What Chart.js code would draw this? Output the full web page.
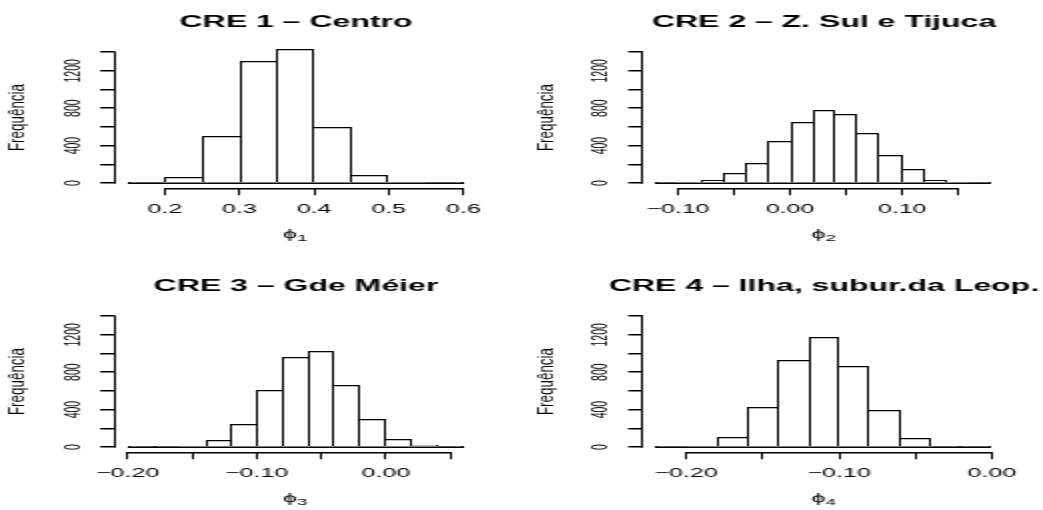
<!DOCTYPE html>
<html>
<head>
<meta charset="utf-8">
<title>CRE histogramas</title>
<script src="https://cdn.jsdelivr.net/npm/chart.js@4.4.0/dist/chart.umd.min.js"></script>
<style>
  html, body { margin: 0; padding: 0; background: #fff; }
  body { width: 1043px; height: 510px; overflow: hidden; position: relative; }
  /* each panel is drawn narrow and widened horizontally */
  .panel { position: absolute; transform: scaleX(2); transform-origin: 0 0; }
  .panel canvas { display: block; }
</style>
</head>
<body>
<div class="panel" style="left:0px;top:0px"><canvas id="cre1" width="296" height="246"></canvas></div>
<div class="panel" style="left:521px;top:0px"><canvas id="cre2" width="303" height="246"></canvas></div>
<div class="panel" style="left:0px;top:264px"><canvas id="cre3" width="296" height="246"></canvas></div>
<div class="panel" style="left:521px;top:264px"><canvas id="cre4" width="303" height="246"></canvas></div>

<script>
// ---- frequency axis (shared by all four histograms) ----
const yTicks = [0, 200, 400, 600, 800, 1000, 1200, 1400];
const yTickLabels = ['0', '', '400', '', '800', '', '1200', ''];
const yLimits = [0, 1400];

// ---- CRE 1 - Centro ----
const cre1Breaks = [0.15, 0.20, 0.25, 0.30, 0.35, 0.40, 0.45, 0.50, 0.55, 0.60];
const cre1Counts = [2, 60, 500, 1310, 1430, 600, 88, 8, 2];
const cre1XTicks = [0.2, 0.3, 0.4, 0.5, 0.6];
const cre1XLabels = ['0.2', '0.3', '0.4', '0.5', '0.6'];

// ---- CRE 2 - Z. Sul e Tijuca ----
const cre2Breaks = [-0.12, -0.10, -0.08, -0.06, -0.04, -0.02, 0.00, 0.02, 0.04, 0.06, 0.08, 0.10, 0.12, 0.14, 0.16, 0.18];
const cre2Counts = [2, 7, 36, 104, 219, 449, 654, 776, 740, 532, 295, 147, 29, 7, 1];
const cre2XTicks = [-0.10, -0.05, 0.00, 0.05, 0.10, 0.15];
const cre2XLabels = ['\u22120.10', '', '0.00', '', '0.10', ''];

// ---- CRE 3 - Gde Méier ----
const cre3Breaks = [-0.20, -0.18, -0.16, -0.14, -0.12, -0.10, -0.08, -0.06, -0.04, -0.02, 0.00, 0.02, 0.04, 0.06];
const cre3Counts = [2, 4, 11, 79, 247, 612, 960, 1028, 666, 301, 86, 21, 2];
const cre3XTicks = [-0.20, -0.15, -0.10, -0.05, 0.00, 0.05];
const cre3XLabels = ['\u22120.20', '', '\u22120.10', '', '0.00', ''];

// ---- CRE 4 - Ilha, subur. da Leopoldina ----
const cre4Breaks = [-0.22, -0.20, -0.18, -0.16, -0.14, -0.12, -0.10, -0.08, -0.06, -0.04, -0.02, 0.00];
const cre4Counts = [3, 11, 104, 433, 935, 1175, 863, 401, 93, 5, 2];
const cre4XTicks = [-0.20, -0.15, -0.10, -0.05, 0.00];
const cre4XLabels = ['\u22120.20', '', '\u22120.10', '', '0.00'];

const FONT = "'Liberation Sans', Arial, Helvetica, sans-serif";
Chart.defaults.color = '#000';
Chart.defaults.font.family = FONT;

// plot-region placement inside each canvas (canvas units, before widening)
const layoutLeft  = { plotLeft: 57.1,  plotRight: 238.4 };
const layoutRight = { plotLeft: 60.55, plotRight: 242.2 };
const CANVAS_H = 246;
const PLOT_BOTTOM = 188.24;
const H_LINE = 1.5;   // horizontal strokes
const V_LINE = 1;     // vertical strokes (widened 2x on screen)

const panels = [
  { id: 'cre1', title: 'CRE 1 \u2013 Centro', sym: '\u03d5', sub: '1',
    breaks: cre1Breaks, counts: cre1Counts, xTicks: cre1XTicks, xLabels: cre1XLabels, box: layoutLeft },
  { id: 'cre2', title: 'CRE 2 \u2013 Z. Sul e Tijuca', sym: '\u03d5', sub: '2',
    breaks: cre2Breaks, counts: cre2Counts, xTicks: cre2XTicks, xLabels: cre2XLabels, box: layoutRight },
  { id: 'cre3', title: 'CRE 3 \u2013 Gde M\u00e9ier', sym: '\u03d5', sub: '3',
    breaks: cre3Breaks, counts: cre3Counts, xTicks: cre3XTicks, xLabels: cre3XLabels, box: layoutLeft },
  { id: 'cre4', title: 'CRE 4 \u2013 Ilha, subur.da Leop.', sym: '\u03d5', sub: '4',
    breaks: cre4Breaks, counts: cre4Counts, xTicks: cre4XTicks, xLabels: cre4XLabels, box: layoutRight }
];

function crisp(v, w) { return Math.round(v - w / 2) + w / 2; }

// R-style axes: the axis line runs only from the first to the last tick,
// the histogram base line spans the breaks, plus the axis titles.
function rAxesPlugin(p) {
  return {
    id: 'rAxes',
    // snap bar edges to whole pixels so outlines stay sharp
    beforeDatasetsDraw(chart) {
      chart.getDatasetMeta(0).data.forEach((el) => {
        const l = Math.round(el.x - el.width / 2);
        const r = Math.round(el.x + el.width / 2);
        el.x = (l + r) / 2;
        el.width = r - l;
        el.y = Math.round(el.y);
        el.base = Math.round(el.base);
      });
    },
    afterDatasetsDraw(chart) {
      const { ctx, scales: { x, y } } = chart;
      const y0 = Math.round(y.getPixelForValue(0)) + 0.25;
      ctx.save();
      ctx.strokeStyle = '#000';
      ctx.lineWidth = H_LINE;
      ctx.beginPath();
      ctx.moveTo(Math.round(x.getPixelForValue(p.breaks[0])), y0);
      ctx.lineTo(Math.round(x.getPixelForValue(p.breaks[p.breaks.length - 1])), y0);
      ctx.stroke();
      ctx.restore();
    },
    afterDraw(chart) {
      const { ctx, chartArea: area, scales: { x, y } } = chart;
      ctx.save();
      ctx.strokeStyle = '#000';
      // x axis line
      ctx.lineWidth = H_LINE;
      const xb = crisp(area.bottom, 1) + (H_LINE - 1) / 2;
      ctx.beginPath();
      ctx.moveTo(crisp(x.getPixelForValue(p.xTicks[0]), 1) - 0.5, xb);
      ctx.lineTo(crisp(x.getPixelForValue(p.xTicks[p.xTicks.length - 1]), 1) + 0.5, xb);
      ctx.stroke();
      // y axis line
      ctx.lineWidth = V_LINE;
      const yl = crisp(area.left, 1);
      ctx.beginPath();
      ctx.moveTo(yl, y.getPixelForValue(yTicks[0]) + H_LINE / 2);
      ctx.lineTo(yl, y.getPixelForValue(yTicks[yTicks.length - 1]) - H_LINE / 2);
      ctx.stroke();

      ctx.fillStyle = '#000';
      // x axis title: symbol with a lowered index
      const cx = (area.left + area.right) / 2;
      const base = area.bottom + 49.5;
      ctx.font = '12.5px ' + FONT;
      const wSym = ctx.measureText(p.sym).width;
      ctx.font = '9.5px ' + FONT;
      const wSub = ctx.measureText(p.sub).width;
      const x0 = cx - (wSym + wSub) / 2;
      ctx.textAlign = 'left';
      ctx.textBaseline = 'alphabetic';
      ctx.font = '12.5px ' + FONT;
      ctx.fillText(p.sym, x0, base);
      ctx.font = '9.5px ' + FONT;
      ctx.fillText(p.sub, x0 + wSym, base + 3);

      // y axis title, read bottom to top
      ctx.font = '10px ' + FONT;
      ctx.textAlign = 'center';
      ctx.translate(area.left - 44.8, (area.top + area.bottom) / 2);
      ctx.rotate(-Math.PI / 2);
      ctx.scale(1.34, 1);
      ctx.fillText('Frequ\u00eancia', 0, 0);
      ctx.restore();
    }
  };
}

function makePanel(p) {
  const canvas = document.getElementById(p.id);
  const W = canvas.width;
  const lo = p.breaks[0], hi = p.breaks[p.breaks.length - 1];
  const xPad = 0.04 * (hi - lo);
  const yPad = 0.04 * (yLimits[1] - yLimits[0]);
  const points = p.counts.map((c, i) => ({ x: (p.breaks[i] + p.breaks[i + 1]) / 2, y: c }));

  // each shared edge is drawn by the taller of the two neighbouring bars
  const sideWidths = (ctx) => {
    const i = ctx.dataIndex, d = p.counts;
    return {
      top: H_LINE,
      bottom: 0,
      left: (i === 0 || d[i] >= d[i - 1]) ? V_LINE : 0,
      right: (i === d.length - 1 || d[i] > d[i + 1]) ? V_LINE : 0
    };
  };

  const tickGrid = (w) => ({
    display: true, drawOnChartArea: false, drawTicks: true,
    tickLength: 7, tickWidth: w, lineWidth: w, color: '#000', offset: false
  });

  new Chart(canvas, {
    type: 'bar',
    data: {
      datasets: [{
        data: points,
        xAxisID: 'x', yAxisID: 'y',
        backgroundColor: '#fff',
        borderColor: '#000',
        borderWidth: sideWidths,
        borderSkipped: false,
        inflateAmount: 0,
        barPercentage: 1,
        categoryPercentage: 1
      }]
    },
    options: {
      responsive: false,
      animation: false,
      events: [],
      layout: { padding: 0 },
      plugins: {
        legend: { display: false },
        tooltip: { enabled: false },
        title: {
          display: true,
          text: p.title,
          color: '#000',
          font: { family: FONT, size: 16, weight: 'bold', lineHeight: 1.2 },
          padding: { top: 13.4, bottom: 14.26 }
        }
      },
      scales: {
        x: {
          type: 'linear', position: 'bottom',
          min: lo - xPad, max: hi + xPad,
          offset: false, bounds: 'data',
          afterBuildTicks: (s) => { s.ticks = p.xTicks.map(v => ({ value: v })); },
          afterFit: (s) => { s.height = CANVAS_H - PLOT_BOTTOM; },
          grid: tickGrid(V_LINE),
          border: { display: false },
          ticks: {
            autoSkip: false, minRotation: 0, maxRotation: 0, padding: 6.5,
            color: '#000', font: { family: FONT, size: 12.5 },
            callback: (v, i) => p.xLabels[i]
          }
        },
        y: {
          type: 'linear', position: 'left',
          min: yLimits[0] - yPad, max: yLimits[1] + yPad,
          bounds: 'data',
          afterBuildTicks: (s) => { s.ticks = yTicks.map(v => ({ value: v })); },
          afterFit: (s) => { s.width = p.box.plotLeft; },
          grid: tickGrid(H_LINE),
          border: { display: false },
          ticks: {
            autoSkip: false, minRotation: 90, maxRotation: 90,
            crossAlign: 'center', padding: 1.47,
            color: '#000', font: { family: FONT, size: 10.5 },
            callback: (v, i) => yTickLabels[i]
          }
        },
        // empty right-hand margin so the title centres over the plot region
        margin: {
          type: 'linear', position: 'right', display: true,
          grid: { display: false }, ticks: { display: false },
          border: { display: false },
          afterFit: (s) => { s.width = W - p.box.plotRight; }
        }
      }
    },
    plugins: [rAxesPlugin(p)]
  });
}

panels.forEach(makePanel);
</script>
</body>
</html>
